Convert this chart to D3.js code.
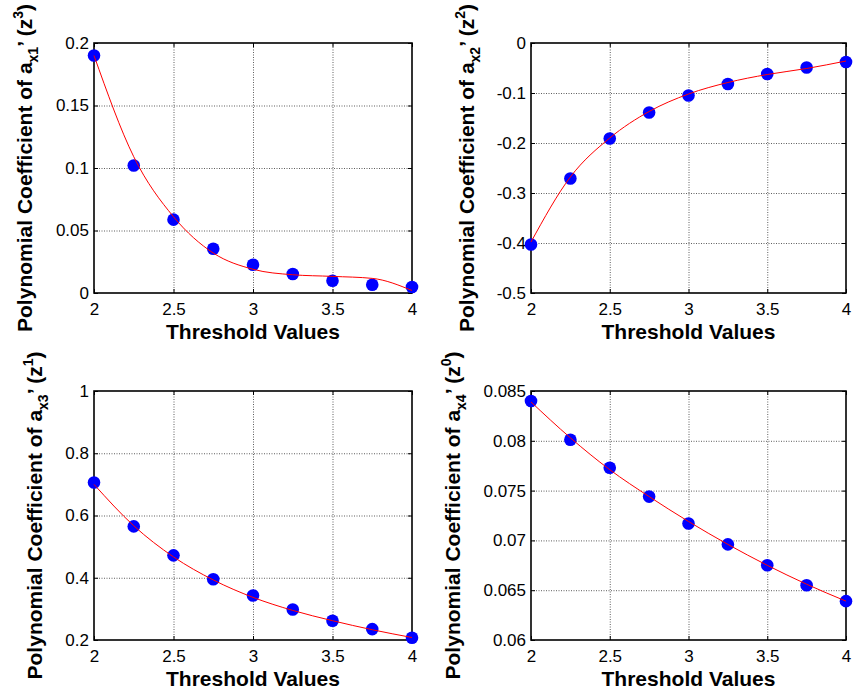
<!DOCTYPE html>
<html>
<head>
<meta charset="utf-8">
<script src="https://cdn.jsdelivr.net/npm/d3@7"></script>
<style>
  body { margin: 0; background: #fff; }
  text { font-family: Arial, "Liberation Sans", sans-serif; fill: #000; }
  .grid line { stroke: #000; stroke-opacity: 0.8; stroke-dasharray: 1,1.5; stroke-width: 0.8; }
  .grid path { display: none; }
</style>
</head>
<body>
<div class="chart"></div>
<script>
const svgWidth = 854
const svgHeight = 695

// threshold values (x) shared by all four panels
const thresholds = [2, 2.25, 2.5, 2.75, 3, 3.25, 3.5, 3.75, 4]
const xTicks = [2, 2.5, 3, 3.5, 4]

// measured coefficients (blue dots)
const coefX1 = [0.190, 0.102, 0.0587, 0.0354, 0.0226, 0.0152, 0.0098, 0.0066, 0.0048]
const coefX2 = [-0.403, -0.271, -0.191, -0.139, -0.105, -0.082, -0.062, -0.049, -0.038]
const coefX3 = [0.706, 0.565, 0.472, 0.395, 0.343, 0.298, 0.262, 0.235, 0.207]
const coefX4 = [0.0840, 0.0801, 0.0773, 0.0744, 0.0717, 0.0696, 0.0675, 0.0655, 0.0639]

// fitted curves (red lines)
const fitX1 = [0.190, 0.109, 0.061, 0.032, 0.019, 0.0146, 0.0133, 0.0117, 0.002]
const fitX2 = [-0.398, -0.268, -0.190, -0.137, -0.102, -0.079, -0.063, -0.051, -0.036]
const fitX3 = [0.700, 0.567, 0.467, 0.393, 0.337, 0.295, 0.262, 0.233, 0.208]
const fitX4 = [0.0839, 0.0803, 0.0771, 0.0744, 0.0719, 0.0696, 0.0675, 0.0656, 0.0639]

// y tick labels
const yTicks1 = [0, 0.05, 0.1, 0.15, 0.2]
const yTicks2 = [-0.5, -0.4, -0.3, -0.2, -0.1, 0]
const yTicks3 = [0.2, 0.4, 0.6, 0.8, 1]
const yTicks4 = [0.06, 0.065, 0.07, 0.075, 0.08, 0.085]

const panels = [
  { left: 94, top: 43, width: 318, height: 250, yDomain: [0, 0.2], yTicks: yTicks1, dots: coefX1, fit: fitX1, sub: "x1", sup: "3", labelX: 32 },
  { left: 531, top: 43, width: 315, height: 250, yDomain: [-0.5, 0], yTicks: yTicks2, dots: coefX2, fit: fitX2, sub: "x2", sup: "2", labelX: 474 },
  { left: 94, top: 391, width: 318, height: 249, yDomain: [0.2, 1], yTicks: yTicks3, dots: coefX3, fit: fitX3, sub: "x3", sup: "1", labelX: 42 },
  { left: 531, top: 391, width: 315, height: 249, yDomain: [0.06, 0.085], yTicks: yTicks4, dots: coefX4, fit: fitX4, sub: "x4", sup: "0", labelX: 460 }
]

let svg = d3
  .select(".chart")
  .append("svg")
  .attr("width", svgWidth)
  .attr("height", svgHeight)

panels.forEach(p => {
  let x = d3.scaleLinear().domain([2, 4]).range([0, p.width])
  let y = d3.scaleLinear().domain(p.yDomain).range([p.height, 0])

  let g = svg.append("g").attr("transform", `translate(${p.left}, ${p.top})`)

  // dotted grid
  g.append("g")
    .attr("class", "grid")
    .attr("transform", `translate(0, ${p.height})`)
    .call(d3.axisBottom(x).tickValues(xTicks.slice(1, -1)).tickSize(-p.height).tickFormat(""))
  g.append("g")
    .attr("class", "grid")
    .call(d3.axisLeft(y).tickValues(p.yTicks.slice(1, -1)).tickSize(-p.width).tickFormat(""))

  // axes with inward ticks
  let xAxis = g.append("g")
    .attr("transform", `translate(0, ${p.height})`)
    .call(d3.axisBottom(x).tickValues(xTicks).tickSizeInner(-4).tickSizeOuter(0).tickPadding(10).tickFormat(d => String(d)))
  let yAxis = g.append("g")
    .call(d3.axisLeft(y).tickValues(p.yTicks).tickSizeInner(-4).tickSizeOuter(0).tickPadding(5).tickFormat(d => String(d)))
  let xTop = g.append("g")
    .call(d3.axisTop(x).tickValues(xTicks).tickSizeInner(-4).tickSizeOuter(0).tickFormat(""))
  let yRight = g.append("g")
    .attr("transform", `translate(${p.width}, 0)`)
    .call(d3.axisRight(y).tickValues(p.yTicks).tickSizeInner(-4).tickSizeOuter(0).tickFormat(""))

  ;[xAxis, yAxis, xTop, yRight].forEach(a => {
    a.select(".domain").remove()
    a.selectAll("line").attr("stroke", "#000")
    a.selectAll("text")
      .attr("fill", "#000")
      .style("font-size", "17px")
      .style("font-family", "Arial, 'Liberation Sans', sans-serif")
  })

  // frame
  g.append("rect")
    .attr("width", p.width)
    .attr("height", p.height)
    .attr("fill", "none")
    .attr("stroke", "#000")
    .attr("stroke-width", 1.6)

  // blue markers
  g.selectAll("circle")
    .data(thresholds)
    .enter()
    .append("circle")
    .attr("cx", d => x(d))
    .attr("cy", (d, i) => y(p.dots[i]))
    .attr("r", 6.3)
    .attr("fill", "#0000ff")

  // red fitted line
  let line = d3.line()
    .x(d => x(d))
    .y((d, i) => y(p.fit[i]))
    .curve(d3.curveMonotoneX)

  g.append("path")
    .datum(thresholds)
    .attr("d", line)
    .attr("fill", "none")
    .attr("stroke", "#ff0000")
    .attr("stroke-width", 1)

  // x label
  g.append("text")
    .attr("x", p.width / 2)
    .attr("y", p.height + 46)
    .attr("text-anchor", "middle")
    .style("font-size", "21px")
    .style("font-weight", "bold")
    .text("Threshold Values")

  // y label with subscript / superscript
  let yl = svg.append("text")
    .attr("transform", `translate(${p.labelX}, ${p.top + p.height / 2}) rotate(-90)`)
    .attr("text-anchor", "middle")
    .style("font-size", "21px")
    .style("font-weight", "bold")

  yl.append("tspan").text("Polynomial Coefficient of a")
  yl.append("tspan").attr("dy", 6).style("font-size", "14px").text(p.sub)
  yl.append("tspan").attr("dy", -6).text("’ (z")
  yl.append("tspan").attr("dy", -9).style("font-size", "14px").text(p.sup)
  yl.append("tspan").attr("dy", 9).text(")")
})
</script>
</body>
</html>
